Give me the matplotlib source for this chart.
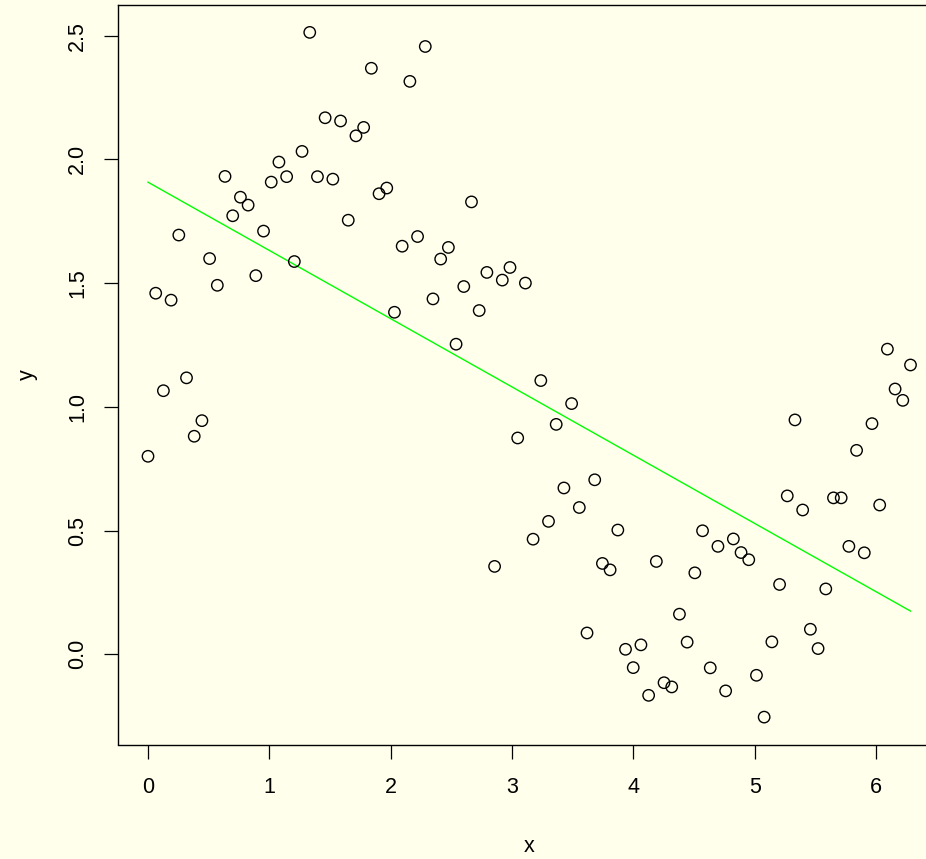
import numpy as np
import matplotlib
matplotlib.use("Agg")
import matplotlib.pyplot as plt

x = [0.0000, 0.0635, 0.1269, 0.1904, 0.2539, 0.3173, 0.3808, 0.4443, 0.5077, 0.5712,
     0.6347, 0.6981, 0.7616, 0.8251, 0.8885, 0.9520, 1.0155, 1.0789, 1.1424, 1.2059,
     1.2693, 1.3328, 1.3963, 1.4597, 1.5232, 1.5867, 1.6501, 1.7136, 1.7771, 1.8405,
     1.9040, 1.9675, 2.0309, 2.0944, 2.1579, 2.2213, 2.2848, 2.3483, 2.4117, 2.4752,
     2.5387, 2.6021, 2.6656, 2.7291, 2.7925, 2.8560, 2.9195, 2.9829, 3.0464, 3.1099,
     3.1733, 3.2368, 3.3003, 3.3637, 3.4272, 3.4907, 3.5541, 3.6176, 3.6811, 3.7445,
     3.8080, 3.8715, 3.9349, 3.9984, 4.0619, 4.1253, 4.1888, 4.2523, 4.3157, 4.3792,
     4.4427, 4.5061, 4.5696, 4.6331, 4.6965, 4.7600, 4.8235, 4.8869, 4.9504, 5.0139,
     5.0773, 5.1408, 5.2043, 5.2677, 5.3312, 5.3947, 5.4581, 5.5216, 5.5851, 5.6485,
     5.7120, 5.7755, 5.8389, 5.9024, 5.9659, 6.0293, 6.0928, 6.1563, 6.2197, 6.2832]

y = [0.800, 1.459, 1.065, 1.431, 1.694, 1.117, 0.881, 0.944, 1.599, 1.491,
     1.931, 1.772, 1.847, 1.815, 1.530, 1.710, 1.908, 1.989, 1.930, 1.587,
     2.032, 2.513, 1.930, 2.168, 1.920, 2.155, 1.754, 2.095, 2.129, 2.368,
     1.861, 1.884, 1.382, 1.649, 2.315, 1.688, 2.456, 1.436, 1.597, 1.644,
     1.253, 1.486, 1.828, 1.389, 1.543, 0.355, 1.512, 1.563, 0.874, 1.500,
     0.465, 1.106, 0.537, 0.929, 0.672, 1.013, 0.593, 0.086, 0.705, 0.367,
     0.341, 0.502, 0.020, -0.054, 0.038, -0.166, 0.375, -0.115, -0.132, 0.162,
     0.049, 0.329, 0.499, -0.055, 0.436, -0.148, 0.466, 0.411, 0.382, -0.085,
     -0.254, 0.050, 0.282, 0.640, 0.947, 0.583, 0.101, 0.023, 0.264, 0.632,
     0.632, 0.436, 0.824, 0.410, 0.932, 0.603, 1.233, 1.072, 1.026, 1.169]

xticks = [0, 1, 2, 3, 4, 5, 6]
xticklabels = ["0", "1", "2", "3", "4", "5", "6"]
yticks = [0.0, 0.5, 1.0, 1.5, 2.0, 2.5]
yticklabels = ["0.0", "0.5", "1.0", "1.5", "2.0", "2.5"]

BG = "#FFFFEC"
plt.rcParams["font.family"] = ["Liberation Sans", "DejaVu Sans"]

W, H = 926, 859
fig = plt.figure(figsize=(W / 100, H / 100), dpi=100, facecolor=BG)
left, right, top, bottom = 117.5, 941.0, 5.0, 744.5
ax = fig.add_axes([left / W, (H - bottom) / H, (right - left) / W, (bottom - top) / H])
ax.set_facecolor(BG)

xa = np.array(x)
ya = np.array(y)
ax.scatter(xa, ya, s=8.2**2, facecolors="none", edgecolors="black", linewidths=1.0, zorder=3)

coef = np.polyfit(xa, ya, 1)
ax.plot([xa[0], xa[-1]], np.polyval(coef, [xa[0], xa[-1]]), color="#00FF00", lw=1.0, zorder=2)

xr = xa.max() - xa.min()
yr = ya.max() - ya.min()
ax.set_xlim(xa.min() - 0.04 * xr, xa.max() + 0.04 * xr)
ax.set_ylim(ya.min() - 0.04 * yr, ya.max() + 0.04 * yr)

ax.set_xticks(xticks)
ax.set_xticklabels(xticklabels)
ax.set_yticks(yticks)
ax.set_yticklabels(yticklabels, rotation=90, va="center")

for s in ax.spines.values():
    s.set_linewidth(1.0)
    s.set_color("black")

ax.tick_params(axis="both", direction="out", length=10.3, width=0.9, labelsize=15.5, colors="black")
ax.tick_params(axis="x", pad=13)
ax.tick_params(axis="y", pad=11)

ax.text(0.5, (bottom - 846) / (bottom - top), "x", transform=ax.transAxes,
        ha="center", va="center", fontsize=15.5)
ax.text((27 - left) / (right - left), 0.5, "y", transform=ax.transAxes,
        ha="center", va="center", rotation=90, fontsize=15.5)

fig.savefig("out.png", dpi=100, facecolor=BG)
